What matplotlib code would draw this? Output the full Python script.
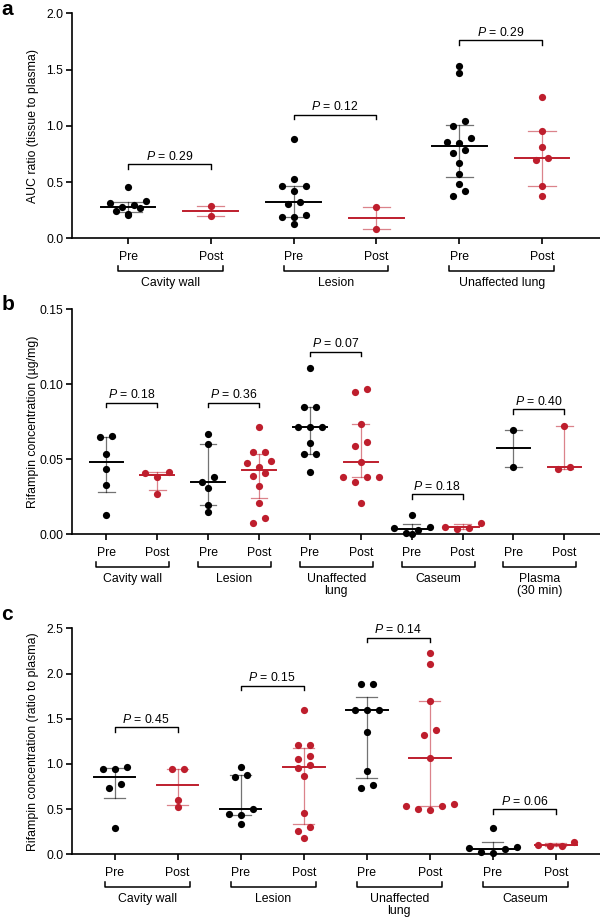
import numpy as np
import matplotlib
matplotlib.use("Agg")
import matplotlib.pyplot as plt
from matplotlib.ticker import FormatStrFormatter, MultipleLocator

plt.rcParams["font.family"] = ["Liberation Sans", "DejaVu Sans"]
plt.rcParams["mathtext.fontset"] = "custom"
plt.rcParams["mathtext.rm"] = "Liberation Sans"
plt.rcParams["mathtext.it"] = "Liberation Sans:italic"
plt.rcParams["font.size"] = 8.8

BLACK = "#000000"
RED = "#BE1E2D"

# ---- panel a: AUC ratio (tissue to plasma)
a_groups = ["Cavity wall", "Lesion", "Unaffected lung"]
a_pre = [
    [0.46, 0.33, 0.31, 0.30, 0.28, 0.27, 0.24, 0.22, 0.21],
    [0.88, 0.53, 0.465, 0.465, 0.42, 0.323, 0.305, 0.207, 0.187, 0.187, 0.124],
    [1.53, 1.47, 1.04, 1.00, 0.89, 0.86, 0.85, 0.785, 0.755, 0.67, 0.57, 0.48, 0.42, 0.38],
]
a_post = [
    [0.29, 0.20],
    [0.275, 0.08],
    [1.26, 0.95, 0.815, 0.71, 0.70, 0.465, 0.38],
]
a_pvals = ["0.29", "0.12", "0.29"]
a_bracket = [0.66, 1.10, 1.76]

# ---- panel b: rifampin concentration (ug/mg)
b_groups = ["Cavity wall", "Lesion", "Unaffected\nlung", "Caseum", "Plasma\n(30 min)"]
b_pre = [
    [0.0655, 0.0647, 0.0533, 0.0433, 0.0329, 0.0129],
    [0.0667, 0.0602, 0.038, 0.0349, 0.0311, 0.0195, 0.015],
    [0.111, 0.085, 0.085, 0.0717, 0.0717, 0.0717, 0.0607, 0.0533, 0.0533, 0.0417],
    [0.0129, 0.005, 0.004, 0.003, 0.0008, 0.0003],
    [0.0695, 0.0451],
]
b_post = [
    [0.0417, 0.0411, 0.038, 0.0269],
    [0.0717, 0.0547, 0.0547, 0.049, 0.0473, 0.045, 0.041, 0.0389, 0.0324, 0.0211, 0.0107, 0.0073],
    [0.0967, 0.0951, 0.0735, 0.0617, 0.0591, 0.048, 0.0384, 0.0384, 0.0384, 0.0351, 0.0211],
    [0.0078, 0.0051, 0.004, 0.0035],
    [0.0724, 0.0451, 0.0433],
]
b_pvals = ["0.18", "0.36", "0.07", "0.18", "0.40"]
b_bracket = [0.0877, 0.0877, 0.1217, 0.0267, 0.0835]

# ---- panel c: rifampin concentration (ratio to plasma)
c_groups = ["Cavity wall", "Lesion", "Unaffected\nlung", "Caseum"]
c_pre = [
    [0.969, 0.947, 0.940, 0.774, 0.730, 0.294],
    [0.969, 0.877, 0.852, 0.50, 0.45, 0.44, 0.338],
    [1.884, 1.884, 1.596, 1.596, 1.596, 1.349, 0.925, 0.767, 0.73],
    [0.294, 0.08, 0.066, 0.055, 0.022, 0.011],
]
c_post = [
    [0.947, 0.94, 0.60, 0.527],
    [1.596, 1.209, 1.209, 1.091, 1.051, 0.988, 0.951, 0.866, 0.453, 0.302, 0.261, 0.177],
    [2.23, 2.105, 1.696, 1.375, 1.32, 1.069, 0.553, 0.534, 0.534, 0.498, 0.49],
    [0.133, 0.103, 0.095, 0.095],
]
c_pvals = ["0.45", "0.15", "0.14", "0.06"]
c_bracket = [1.405, 1.862, 2.396, 0.50]

ROW_H = 6.5    # values closer than this (px) share one row
SPREAD = 12.0  # horizontal spacing of dots in one row, px


def swarm(vals, px_x, px_y):
    # rows of near-equal values, spread symmetrically (GraphPad-like)
    vals = np.asarray(vals, float)
    order = np.argsort(vals)[::-1]
    offs = np.zeros(len(vals))
    rows, cur = [], []
    for i in order:
        if cur and (vals[cur[0]] - vals[i]) * px_y > ROW_H:
            rows.append(cur)
            cur = []
        cur.append(i)
    rows.append(cur)
    for row in rows:
        m = len(row)
        slots = (np.arange(m) - (m - 1) / 2) * SPREAD
        slots = sorted(slots, key=lambda s: (abs(s), s))
        for idx, s in zip(sorted(row, key=lambda j: vals[j]), slots):
            offs[idx] = s / px_x
    return offs


def draw_panel(ax, groups, pre, post, pvals, bracket_y, ymax, ystep, fmt, ylabel):
    n = len(groups)
    ax.set_xlim(-0.68, 2 * n - 1 + 0.70)
    ax.set_ylim(0, ymax)
    px_x = ax.bbox.width / (2 * n - 1 + 1.38)
    px_y = ax.bbox.height / ymax

    for g in range(n):
        for k, (vals, col) in enumerate([(pre[g], BLACK), (post[g], RED)]):
            x0 = 2 * g + k
            v = np.asarray(vals, float)
            xs = x0 + swarm(v, px_x, px_y)
            med = np.median(v)
            q1, q3 = np.percentile(v, [25, 75], method="weibull")
            ax.scatter(xs, v, s=27, color=col, linewidths=0, zorder=3, clip_on=False)
            ax.plot([x0, x0], [q1, q3], color=col, alpha=0.55, lw=0.9, zorder=2)
            for q in (q1, q3):
                ax.plot([x0 - 0.165, x0 + 0.165], [q, q], color=col, alpha=0.55, lw=0.9, zorder=2)
            ax.plot([x0 - 0.33, x0 + 0.33], [med, med], color=col, lw=1.4, zorder=4)

        # P-value bracket
        yb = bracket_y[g]
        tick = 4.5 / px_y
        ax.plot([2 * g, 2 * g, 2 * g + 1, 2 * g + 1], [yb - tick, yb, yb, yb - tick],
                color=BLACK, lw=1.0, clip_on=False)
        ax.text(2 * g + 0.5, yb + 4.5 / px_y, r"$P$ = " + pvals[g], ha="center",
                va="baseline", fontsize=8.8)

        # group bracket under the axis
        h = ax.bbox.height
        trans = ax.get_xaxis_transform()
        yl = -32.5 / h
        xl = 2 * g - 10 / px_x
        xr = 2 * g + 1 + 12 / px_x
        ax.plot([xl, xl, xr, xr], [yl + 4.5 / h, yl, yl, yl + 4.5 / h], color=BLACK,
                lw=1.1, transform=trans, clip_on=False)
        ax.text((xl + xr) / 2, -38.5 / h, groups[g], ha="center", va="top",
                transform=trans, fontsize=8.8, linespacing=1.05)

    ax.set_xticks(np.arange(2 * n))
    ax.set_xticklabels(["Pre", "Post"] * n)
    ax.yaxis.set_major_locator(MultipleLocator(ystep))
    ax.yaxis.set_major_formatter(FormatStrFormatter(fmt))
    for side in ("top", "right"):
        ax.spines[side].set_visible(False)
    for side in ("left", "bottom"):
        ax.spines[side].set_linewidth(1.2)
    ax.tick_params(axis="both", direction="out", length=4, width=1.2, labelsize=8.8)
    ax.tick_params(axis="x", pad=5)
    ax.tick_params(axis="y", pad=2)
    ax.set_ylabel(ylabel, fontsize=8.8)
    ax.yaxis.label.set_va("center")
    ax.yaxis.set_label_coords(-39.0 / ax.bbox.width, 0.5)


fig = plt.figure(figsize=(6, 9.21), dpi=100)

ax_a = fig.add_axes([0.1195, 0.7413, 0.8805, 0.2443])
draw_panel(ax_a, a_groups, a_pre, a_post, a_pvals, a_bracket, 2.0, 0.5, "%.1f",
           "AUC ratio (tissue to plasma)")

ax_b = fig.add_axes([0.1195, 0.4199, 0.8805, 0.2443])
draw_panel(ax_b, b_groups, b_pre, b_post, b_pvals, b_bracket, 0.15, 0.05, "%.2f",
           "Rifampin concentration (\u00b5g/mg)")

ax_c = fig.add_axes([0.1195, 0.0724, 0.8805, 0.2454])
draw_panel(ax_c, c_groups, c_pre, c_post, c_pvals, c_bracket, 2.5, 0.5, "%.1f",
           "Rifampin concentration (ratio to plasma)")

for letter, y in [("a", 0.984), ("b", 0.6634), ("c", 0.3268)]:
    fig.text(0.002, y, letter, fontsize=15, fontweight="bold", va="baseline", ha="left")

fig.savefig("out.png", dpi=100)
